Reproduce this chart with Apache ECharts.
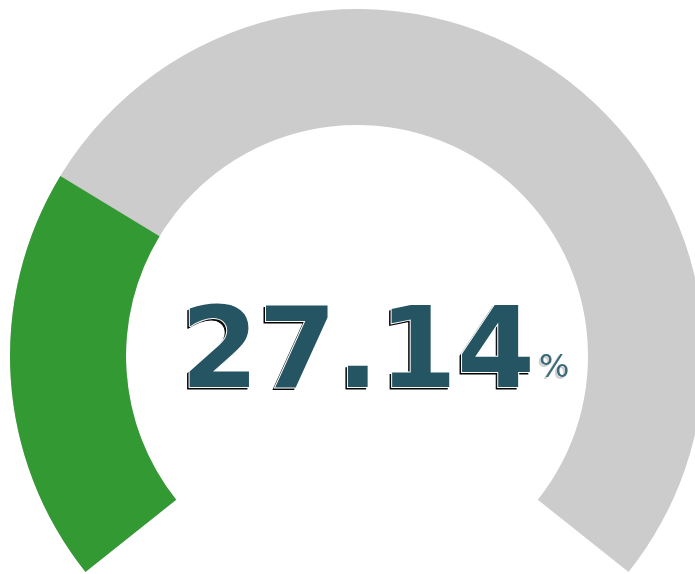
<!DOCTYPE html>
<html>
<head>
<meta charset="utf-8">
<script src="https://cdn.jsdelivr.net/npm/echarts@6/dist/echarts.min.js"></script>
<style>
  html, body { margin: 0; padding: 0; background: #fff; overflow: hidden; }
  #main { width: 695px; height: 574px; }
</style>
</head>
<body>
<div id="main"></div>
<script>
// gauge reading
let gaugeNames = ['rate'];
let gaugeValues = [27.14];
let unitText = '%';

let gaugeData = gaugeValues.map(function (v, i) {
    return { name: gaugeNames[i], value: v };
});

function valueLabel(v) {
    return '{val|' + v.toFixed(2) + '}{unit|' + unitText + '}';
}

// shared gauge geometry
let gaugeBase = {
    type: 'gauge',
    center: [357, 356],
    radius: 347,
    startAngle: 218.5,
    endAngle: -38.5,
    min: 0,
    max: 100,
    pointer: { show: false },
    axisTick: { show: false },
    splitLine: { show: false },
    axisLabel: { show: false },
    anchor: { show: false },
    title: { show: false }
};

option = {
    animation: false,
    series: [
        // drop shadow of the value text
        Object.assign({}, gaugeBase, {
            z: 1,
            progress: { show: false },
            axisLine: { show: false },
            detail: {
                offsetCenter: [16, 4],
                formatter: valueLabel,
                rich: {
                    val: {
                        fontFamily: 'DejaVu Sans',
                        fontWeight: 'bold',
                        fontSize: 112,
                        color: '#000',
                        textBorderColor: '#000',
                        textBorderWidth: 1
                    },
                    unit: {
                        fontFamily: 'DejaVu Sans',
                        fontWeight: 'normal',
                        fontSize: 32,
                        color: '#cfcfcf',
                        padding: [21, 0, 0, 4]
                    }
                }
            },
            data: gaugeData
        }),
        Object.assign({}, gaugeBase, {
            z: 2,
            progress: {
                show: true,
                width: 116,
                itemStyle: {
                    color: '#339933'
                }
            },
            axisLine: {
                lineStyle: {
                    width: 116,
                    color: [[1, '#cccccc']]
                }
            },
            detail: {
                offsetCenter: [18, 2],
                formatter: valueLabel,
                rich: {
                    val: {
                        fontFamily: 'DejaVu Sans',
                        fontWeight: 'bold',
                        fontSize: 112,
                        color: '#255563',
                        textBorderColor: '#fff',
                        textBorderWidth: 2
                    },
                    unit: {
                        fontFamily: 'DejaVu Sans',
                        fontWeight: 'normal',
                        fontSize: 32,
                        color: '#3b6b78',
                        padding: [21, 0, 0, 4]
                    }
                }
            },
            data: gaugeData
        })
    ]
};

let myChart = echarts.init(document.getElementById('main'));
myChart.setOption(option);
</script>
</body>
</html>
